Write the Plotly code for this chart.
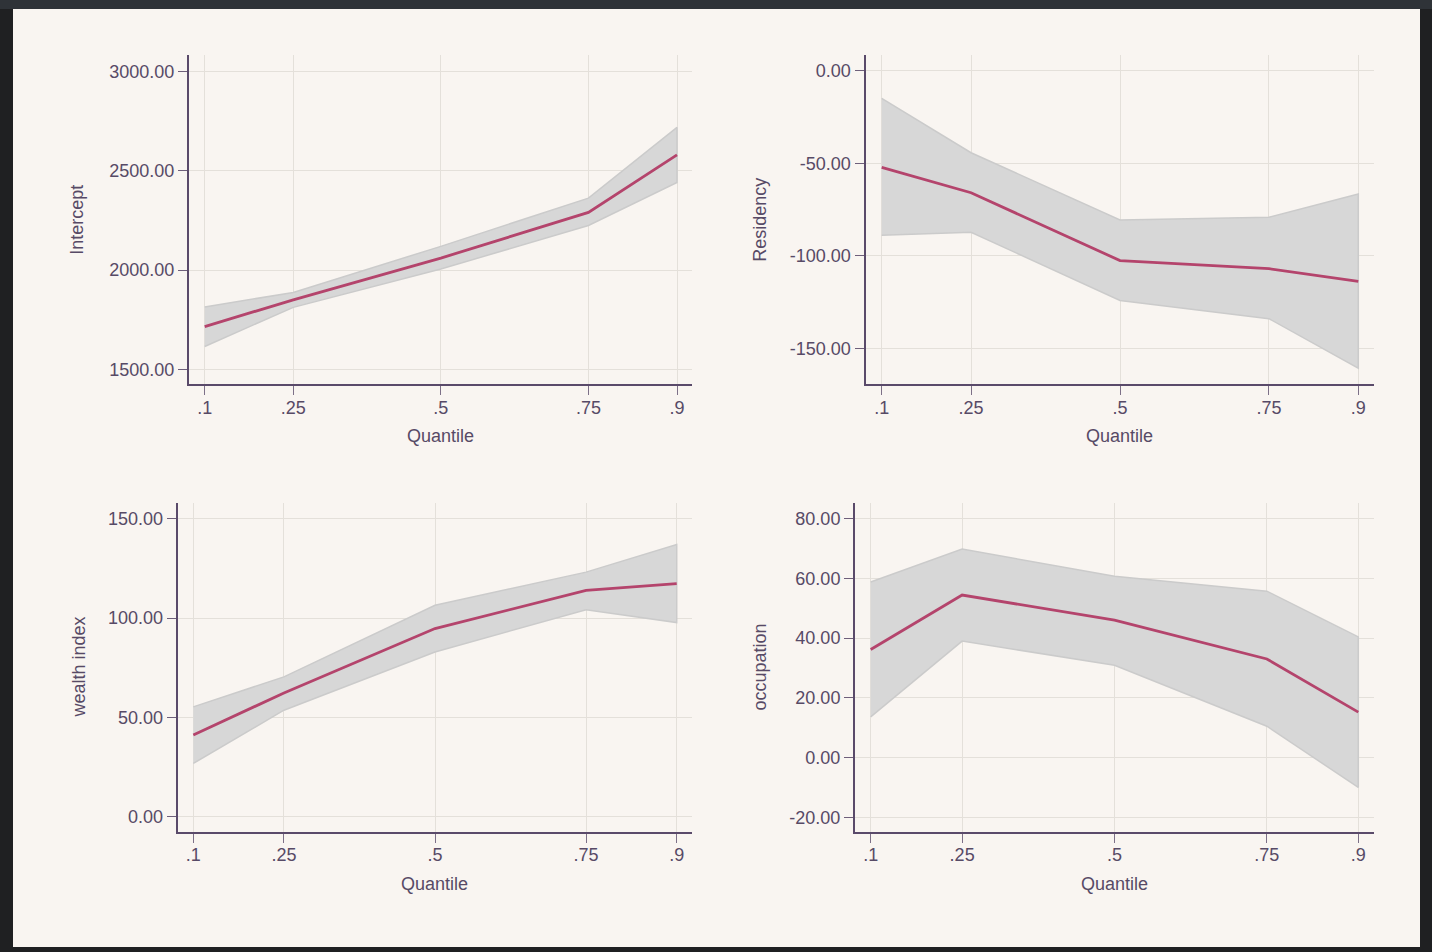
import plotly.graph_objects as go

# ---------------- data ----------------
quantiles = [0.1, 0.25, 0.5, 0.75, 0.9]
quantile_labels = [".1", ".25", ".5", ".75", ".9"]

intercept_coef = [1715, 1850, 2060, 2290, 2580]
intercept_upper = [1814, 1887, 2119, 2362, 2718]
intercept_lower = [1615, 1812, 2005, 2224, 2441]

residency_coef = [-52.2, -65.9, -102.6, -107.0, -113.8]
residency_upper = [-14.9, -44.3, -80.6, -79.2, -66.6]
residency_lower = [-88.9, -87.3, -124.2, -134.0, -160.8]

wealth_coef = [41.1, 62.3, 94.7, 113.9, 117.3]
wealth_upper = [55.3, 70.4, 106.4, 123.1, 137.0]
wealth_lower = [26.8, 53.6, 82.9, 104.2, 97.7]

occupation_coef = [36.2, 54.4, 46.0, 33.0, 15.2]
occupation_upper = [58.8, 69.8, 60.7, 55.7, 40.4]
occupation_lower = [13.6, 39.0, 30.9, 10.5, -10.0]

intercept_ticks = [1500, 2000, 2500, 3000]
intercept_ticktext = ["1500.00", "2000.00", "2500.00", "3000.00"]
residency_ticks = [-150, -100, -50, 0]
residency_ticktext = ["-150.00", "-100.00", "-50.00", "0.00"]
wealth_ticks = [0, 50, 100, 150]
wealth_ticktext = ["0.00", "50.00", "100.00", "150.00"]
occupation_ticks = [-20, 0, 20, 40, 60, 80]
occupation_ticktext = ["-20.00", "0.00", "20.00", "40.00", "60.00", "80.00"]

panel_titles = ["Intercept", "Residency", "wealth index", "occupation"]
x_title = "Quantile"

# ---------------- styling / geometry ----------------
W, H = 1432, 952
CREAM = "#f9f5f1"
TEXT = "#574a66"
AXIS = "#5a4a6a"
GRID = "#e4e0da"
LINE = "#b4446c"
BAND = "#d7d7d7"
BAND_EDGE = "#cbcbcb"
FONT = "Liberation Sans, Arial, Helvetica, sans-serif"
FS = 18

series = [
    (intercept_coef, intercept_upper, intercept_lower, intercept_ticks, intercept_ticktext),
    (residency_coef, residency_upper, residency_lower, residency_ticks, residency_ticktext),
    (wealth_coef, wealth_upper, wealth_lower, wealth_ticks, wealth_ticktext),
    (occupation_coef, occupation_upper, occupation_lower, occupation_ticks, occupation_ticktext),
]

# pixel geometry: axis-line x, tick(.1) x, tick(.9) x, right end x, top y, bottom y, y-range
geom = [
    dict(ax=189.0, t1=204.7, t9=677.0, end=692.0, top=55.3, bot=384.3, yr=[1424.5, 3081.0], ytx=77, xty=436.5),
    dict(ax=865.5, t1=881.7, t9=1358.3, end=1374.0, top=55.3, bot=384.3, yr=[-169.5, 8.4], ytx=760, xty=436.5),
    dict(ax=177.7, t1=193.3, t9=676.7, end=692.0, top=503.3, bot=831.7, yr=[-7.55, 157.75], ytx=78, xty=883.5),
    dict(ax=855.0, t1=870.7, t9=1358.3, end=1374.0, top=503.3, bot=831.7, yr=[-24.82, 85.12], ytx=759, xty=883.5),
]

fig = go.Figure()
layout_axes = {}
annotations = []

for i, ((coef, up, lo, yt, ytt), g) in enumerate(zip(series, geom)):
    n = i + 1
    xa = "x" if n == 1 else f"x{n}"
    ya = "y" if n == 1 else f"y{n}"
    band_x = quantiles + quantiles[::-1]
    band_y = up + lo[::-1]
    fig.add_trace(go.Scatter(
        x=band_x, y=band_y, xaxis=xa, yaxis=ya, mode="lines", fill="toself",
        fillcolor=BAND, line=dict(color=BAND_EDGE, width=1.5), hoverinfo="skip", showlegend=False))
    fig.add_trace(go.Scatter(
        x=quantiles, y=coef, xaxis=xa, yaxis=ya, mode="lines",
        line=dict(color=LINE, width=2.8), showlegend=False))

    ppu = (g["t9"] - g["t1"]) / (quantiles[-1] - quantiles[0])
    xr = [quantiles[0] - (g["t1"] - g["ax"]) / ppu, quantiles[-1] + (g["end"] - g["t9"]) / ppu]
    xdom = [g["ax"] / W, g["end"] / W]
    ydom = [1 - g["bot"] / H, 1 - g["top"] / H]

    xkey = "xaxis" if n == 1 else f"xaxis{n}"
    ykey = "yaxis" if n == 1 else f"yaxis{n}"
    layout_axes[xkey] = dict(
        domain=xdom, range=xr, anchor=ya, tickvals=quantiles, ticktext=quantile_labels,
        showgrid=True, gridcolor=GRID, gridwidth=1, zeroline=False,
        showline=True, linecolor=AXIS, linewidth=2, ticks="outside", ticklen=9,
        tickcolor="#7d7088", tickwidth=1.2, tickfont=dict(family=FONT, size=FS, color=TEXT),
        ticklabelstandoff=-3, fixedrange=True)
    layout_axes[ykey] = dict(
        domain=ydom, range=g["yr"], anchor=xa, tickvals=yt, ticktext=ytt,
        showgrid=True, gridcolor=GRID, gridwidth=1, zeroline=False,
        showline=True, linecolor=AXIS, linewidth=2, ticks="outside", ticklen=9,
        tickcolor="#6e5f7a", tickwidth=1.2, tickfont=dict(family=FONT, size=FS, color=TEXT),
        fixedrange=True)

    annotations.append(dict(
        text=panel_titles[i], xref="paper", yref="paper", x=g["ytx"] / W,
        y=1 - (g["top"] + g["bot"]) / 2 / H, textangle=-90, showarrow=False,
        xanchor="center", yanchor="middle", font=dict(family=FONT, size=FS, color=TEXT)))
    annotations.append(dict(
        text=x_title, xref="paper", yref="paper", x=(g["ax"] + g["end"]) / 2 / W,
        y=1 - g["xty"] / H, showarrow=False, xanchor="center", yanchor="middle",
        font=dict(family=FONT, size=FS, color=TEXT)))

shapes = [
    dict(type="rect", xref="paper", yref="paper", x0=0, x1=1, y0=1 - 9 / H, y1=1,
         fillcolor="#2f3338", line=dict(width=0), layer="below"),
    dict(type="rect", xref="paper", yref="paper", x0=13 / W, x1=1420 / W,
         y0=1 - 947 / H, y1=1 - 9 / H, fillcolor=CREAM, line=dict(width=0), layer="below"),
]

fig.update_layout(
    width=W, height=H, margin=dict(l=0, r=0, t=0, b=0),
    paper_bgcolor="#1f2022", plot_bgcolor=CREAM,
    font=dict(family=FONT, size=FS, color=TEXT),
    shapes=shapes, annotations=annotations, showlegend=False,
    **layout_axes)

fig.write_html(
    "out.html",
    config={"displayModeBar": False},
    post_script="document.body.style.margin='0';document.body.style.background='#1f2022';document.body.style.overflow='hidden';",
)
